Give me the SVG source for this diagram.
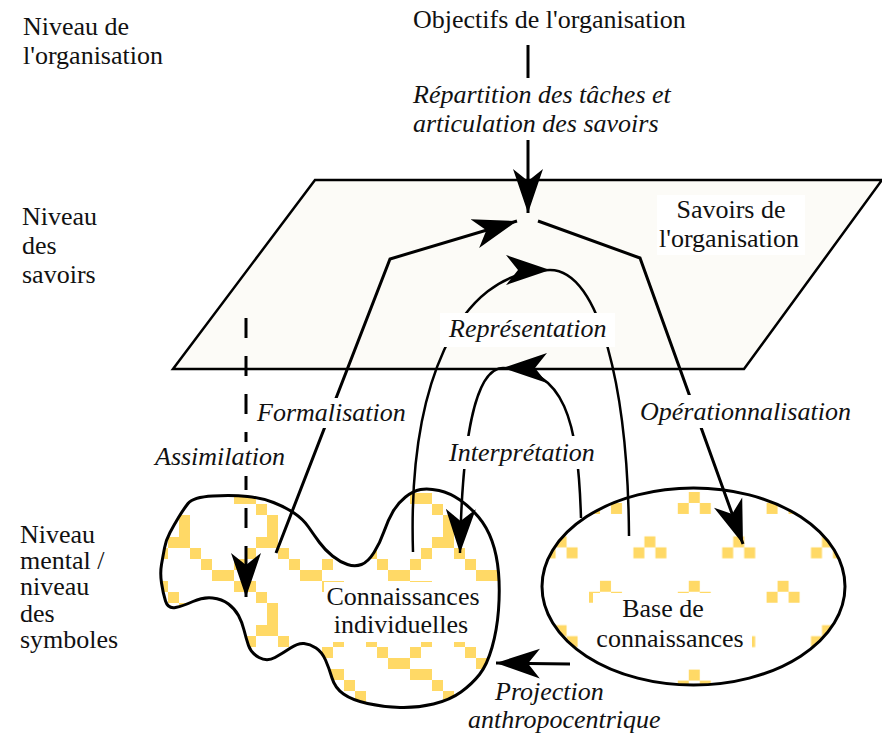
<svg xmlns="http://www.w3.org/2000/svg" width="882" height="735" viewBox="0 0 882 735">
<style>
.t{font-family:"Liberation Serif","Times New Roman",serif;font-size:26px;fill:#111}
.i{font-family:"Liberation Serif","Times New Roman",serif;font-size:26px;font-style:italic;fill:#111}
.ln{fill:none;stroke:#000;stroke-width:3;stroke-linejoin:miter}
.arc{fill:none;stroke:#000;stroke-width:2.5}
.bg{fill:#fff}
</style>
<defs>
<marker id="ah" markerUnits="userSpaceOnUse" markerWidth="50" markerHeight="32" refX="44" refY="16" orient="auto" viewBox="0 0 50 32">
<path d="M44,16 L0,1 L12,16 L0,31 Z" fill="#000"/>
</marker>
<pattern id="pBlob" patternUnits="userSpaceOnUse" x="234" y="493" width="88" height="88">
<path fill="#ffd966" d="M0,0h22v11h-22z M22,11h11v11h-11z M33,22h11v22h-11z M22,44h22v11h-22z M11,55h11v11h-11z M44,55h11v11h-11z M0,66h11v11h-11z M55,66h11v11h-11z M66,77h22v11h-22z"/>
</pattern>
<pattern id="pBase" patternUnits="userSpaceOnUse" x="589" y="492" width="88.8" height="88.8">
<path fill="#ffd966" d="M11,0h11v11h-11z M0,11h11v11h-11z M22,11h11v11h-11z M55.4,44.4h11v11h-11z M44.4,55.4h11v11h-11z M66.4,55.4h11v11h-11z"/>
</pattern>
</defs>

<g id="level-labels">
<text class="t" x="23" y="35">Niveau de</text>
<text class="t" x="23" y="64">l'organisation</text>
<text class="t" x="22" y="225">Niveau</text>
<text class="t" x="22" y="254">des</text>
<text class="t" x="22" y="283">savoirs</text>
<text class="t" x="20" y="543">Niveau</text>
<text class="t" x="20" y="569">mental /</text>
<text class="t" x="20" y="595">niveau</text>
<text class="t" x="20" y="622">des</text>
<text class="t" x="20" y="648">symboles</text>
</g>

<g id="objectifs">
<text class="t" x="413" y="28">Objectifs de l'organisation</text>
</g>

<g id="savoirs-organisation">
<path d="M315,180 L882,180 L744,369 L173,369 Z" fill="#fcfbf7" stroke="#000" stroke-width="2.5" stroke-linejoin="miter"/>
</g>

<g id="connaissances-individuelles">
<path fill="#fff" stroke="none" d="M213,496 Q233,495 247.5,496.5 Q262,498 273.5,502.5 Q285,507 294,513 Q303,519 308.5,527 Q314,535 319.5,542.5 Q325,550 332.5,556 Q340,562 347.5,564.5 Q355,567 361.5,564.5 Q368,562 374,552.5 Q380,543 384,531.5 Q388,520 393,511.5 Q398,503 405.5,497 Q413,491 420.5,489.5 Q428,488 439,490.5 Q450,493 460,500 Q470,507 478.5,517 Q487,527 492,541 Q497,555 498.5,572.5 Q500,590 498.5,610 Q497,630 492,647.5 Q487,665 479.5,674.5 Q472,684 461,692 Q450,700 433.5,704 Q417,708 400,707.5 Q383,707 367.5,703.5 Q352,700 343.5,694 Q335,688 332,678 Q329,668 325.5,660 Q322,652 316,648 Q310,644 304,643.5 Q298,643 290.5,648 Q283,653 275,657.5 Q267,662 259,657.5 Q251,653 248.5,645.5 Q246,638 244,630 Q242,622 238.5,615.5 Q235,609 228.5,604 Q222,599 212.5,598 Q203,597 193,601.5 Q183,606 175.5,607.5 Q168,609 165.5,601 Q163,593 161.5,583 Q160,573 161.5,564.5 Q163,556 164.5,548 Q166,540 170,532.5 Q174,525 178.5,517.5 Q183,510 188,503.5 Q193,497 213,496 Z"/>
<path fill="url(#pBlob)" stroke="#000" stroke-width="3" d="M213,496 Q233,495 247.5,496.5 Q262,498 273.5,502.5 Q285,507 294,513 Q303,519 308.5,527 Q314,535 319.5,542.5 Q325,550 332.5,556 Q340,562 347.5,564.5 Q355,567 361.5,564.5 Q368,562 374,552.5 Q380,543 384,531.5 Q388,520 393,511.5 Q398,503 405.5,497 Q413,491 420.5,489.5 Q428,488 439,490.5 Q450,493 460,500 Q470,507 478.5,517 Q487,527 492,541 Q497,555 498.5,572.5 Q500,590 498.5,610 Q497,630 492,647.5 Q487,665 479.5,674.5 Q472,684 461,692 Q450,700 433.5,704 Q417,708 400,707.5 Q383,707 367.5,703.5 Q352,700 343.5,694 Q335,688 332,678 Q329,668 325.5,660 Q322,652 316,648 Q310,644 304,643.5 Q298,643 290.5,648 Q283,653 275,657.5 Q267,662 259,657.5 Q251,653 248.5,645.5 Q246,638 244,630 Q242,622 238.5,615.5 Q235,609 228.5,604 Q222,599 212.5,598 Q203,597 193,601.5 Q183,606 175.5,607.5 Q168,609 165.5,601 Q163,593 161.5,583 Q160,573 161.5,564.5 Q163,556 164.5,548 Q166,540 170,532.5 Q174,525 178.5,517.5 Q183,510 188,503.5 Q193,497 213,496 Z"/>
<rect class="bg" x="324" y="582" width="162" height="60"/>
<text class="t" x="403" y="605" text-anchor="middle">Connaissances</text>
<text class="t" x="401" y="633" text-anchor="middle">individuelles</text>
</g>

<g id="base-connaissances">
<ellipse cx="693.5" cy="586.5" rx="151.5" ry="98.5" fill="#fff"/>
<ellipse cx="693.5" cy="586.5" rx="151.5" ry="98.5" fill="url(#pBase)" stroke="#000" stroke-width="3"/>
<rect class="bg" x="593" y="593" width="159" height="62"/>
<text class="t" x="663" y="617" text-anchor="middle">Base de</text>
<text class="t" x="670" y="647" text-anchor="middle">connaissances</text>
</g>

<g id="connectors">
<line class="ln" x1="528" y1="45" x2="528" y2="78" stroke-width="2.5"/>
<line class="ln" x1="528" y1="140" x2="528" y2="213" stroke-width="2.5" marker-end="url(#ah)"/>
<polyline class="ln" points="276,553 390,259 517,221" marker-end="url(#ah)"/>
<polyline class="ln" points="538,221 640,258 743,544" marker-end="url(#ah)"/>
<line class="ln" x1="246" y1="318" x2="246" y2="597" stroke-width="2.5" stroke-dasharray="20 18" marker-end="url(#ah)"/>
<path class="arc" d="M413,552 C408,390 455,270 550,270" marker-end="url(#ah)"/>
<path class="arc" d="M550,270 C600,270 628,390 629,536"/>
<path class="arc" d="M581,518 C578,420 565,368 503,368" marker-end="url(#ah)"/>
<path class="arc" d="M503,368 C475,368 462,440 460,553" marker-end="url(#ah)"/>
<line class="ln" x1="570" y1="664" x2="496" y2="663" marker-end="url(#ah)"/>
</g>

<g id="labels">
<text class="i" x="413" y="103">Répartition des tâches et</text>
<text class="i" x="413" y="132">articulation des savoirs</text>
<rect class="bg" x="657" y="195" width="148" height="60"/>
<text class="t" x="731" y="218" text-anchor="middle">Savoirs de</text>
<text class="t" x="729" y="247" text-anchor="middle">l'organisation</text>
<rect class="bg" x="440" y="313" width="175" height="34"/>
<text class="i" x="449" y="337">Représentation</text>
<rect class="bg" x="446" y="436" width="154" height="33"/>
<text class="i" x="449" y="461">Interprétation</text>
<rect class="bg" x="253" y="398" width="159" height="30"/>
<text class="i" x="257" y="421">Formalisation</text>
<rect class="bg" x="152" y="442" width="140" height="34"/>
<text class="i" x="155" y="465">Assimilation</text>
<rect class="bg" x="636" y="395" width="224" height="33"/>
<text class="i" x="640" y="420">Opérationnalisation</text>
<text class="i" x="495" y="700">Projection</text>
<text class="i" x="468" y="728">anthropocentrique</text>
</g>
</svg>
